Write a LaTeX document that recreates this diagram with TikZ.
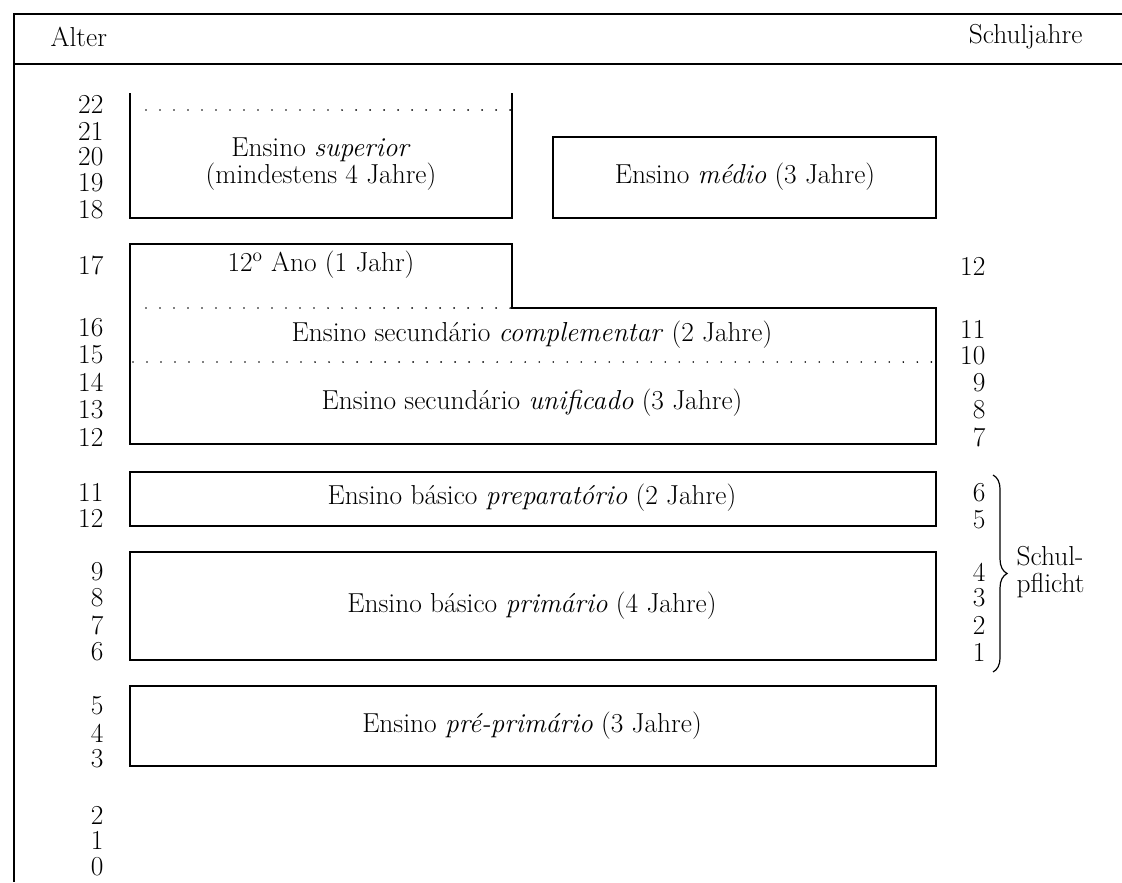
\documentclass[tikz,border=0pt]{standalone}
\usetikzlibrary{decorations.pathreplacing}
\begin{document}
\begin{tikzpicture}[x=0.025cm,y=-0.025cm,line width=0.85pt,
  every node/.style={font=\fontsize{19.5}{19.2}\selectfont,inner sep=0pt},
  agenum/.style={anchor=east},
  yearnum/.style={anchor=east},
  dotline/.style={line width=1.3pt,line cap=round,dash pattern=on 0pt off 9.96pt},
  boxtext/.style={align=center}]
  \useasboundingbox (0,0) rectangle (1122,882);
  \draw[line width=1.1pt] (1122,14) -- (14,14) -- (14,882);
  \draw[line width=1.1pt] (14,64) -- (1122,64);
  \node[anchor=west] (alter) at (50,37) {Alter};
  \node[anchor=east] (schuljahre) at (1083,37) {Schuljahre};
  \foreach \a/\y [count=\i] in {22/104,21/131,20/157,19/183,18/210,17/265,
      16/328,15/355,14/382,13/410,12/437,11/492,12/518,9/572,8/598,7/625,
      6/652,5/706,4/733,3/759,2/815,1/840,0/867}
    \node[agenum] (age\i) at (104,\y) {\a};
  \foreach \s/\y in {12/266,11/329,10/356,9/383,8/410,7/437,6/493,5/520,
      4/572,3/598,2/625,1/652}
    \node[yearnum] (year\s) at (986,\y) {\s};
  \draw (130,93) -- (130,218) -- (512,218) -- (512,93);
  \draw[dotline] (146,110) -- (512,110);
  \node[boxtext] (superior) at (321,164) {Ensino \textit{superior}\\(mindestens 4 Jahre)};
  \draw (553,137) rectangle (936,218);
  \node (medio) at (745,177) {Ensino \textit{médio} (3 Jahre)};
  \draw (130,244) -- (512,244) -- (512,308) -- (936,308) -- (936,444)
    -- (130,444) -- cycle;
  \draw[dotline] (146,308) -- (512,308);
  \draw[dotline] (133,362) -- (936,362);
  \node (ano) at (321,265) {12\textsuperscript{o} Ano (1 Jahr)};
  \node (complementar) at (532,335) {Ensino secundário \textit{complementar} (2 Jahre)};
  \node (unificado) at (532,403) {Ensino secundário \textit{unificado} (3 Jahre)};
  \draw (130,472) rectangle (936,526);
  \node (preparatorio) at (532,498) {Ensino básico \textit{preparatório} (2 Jahre)};
  \draw (130,552) rectangle (936,660);
  \node (primario) at (532,606) {Ensino básico \textit{primário} (4 Jahre)};
  \draw (130,686) rectangle (936,766);
  \node (preprimario) at (532,726) {Ensino \textit{pré-primário} (3 Jahre)};
  \draw[decorate,decoration={brace,amplitude=10pt}] (993,475) -- (993,672);
  \node[anchor=west,align=left] (pflicht) at (1016,572) {Schul-\\pflicht};
\end{tikzpicture}
\end{document}
